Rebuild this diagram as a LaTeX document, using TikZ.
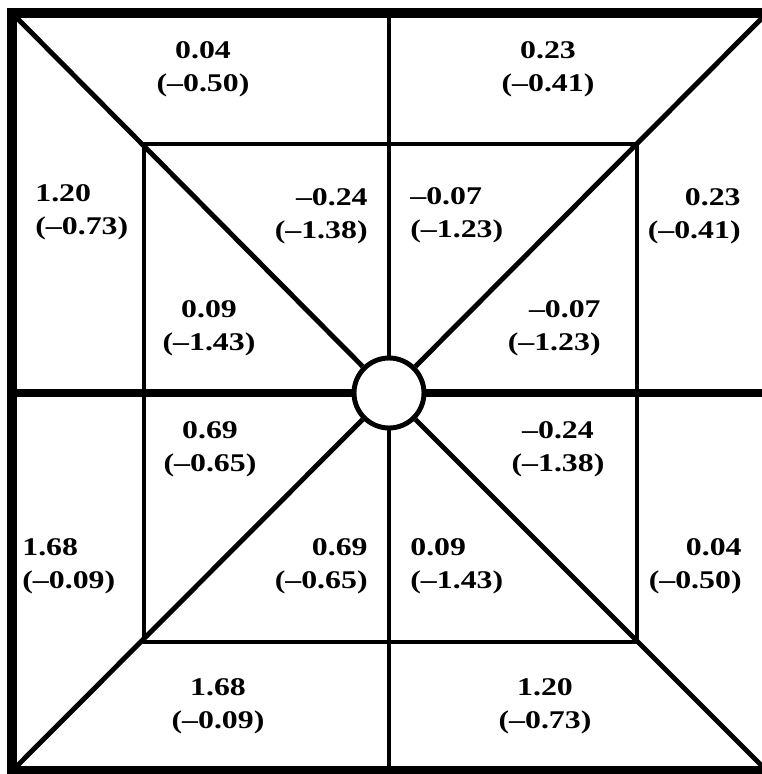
\documentclass[tikz,border=0pt]{standalone}
\usepackage{fontspec}
\newfontfamily\cellfont[FakeStretch=1.25]{Liberation Serif}

\begin{document}
\begin{tikzpicture}[x=0.02cm, y=-0.02cm,
    frame/.style={line width=5.7pt},
    edge/.style={line width=2.8pt},
    axis/.style={line width=4.5pt},
    cell/.style={font=\cellfont\bfseries\fontsize{14.5}{18.7}\selectfont, inner sep=0pt, align=center},
    lcell/.style={cell, align=left, anchor=west},
    rcell/.style={cell, align=right, anchor=east}]
    \useasboundingbox (0,0) rectangle (761,774);

    \coordinate (TL) at (12,13);
    \coordinate (TR) at (767,13);
    \coordinate (BL) at (12,771);
    \coordinate (BR) at (767,771);
    \coordinate (T) at (389,13);
    \coordinate (B) at (389,771);
    \coordinate (L) at (12,393);
    \coordinate (R) at (767,393);
    \coordinate (iTL) at (144,144);
    \coordinate (iBR) at (637,642);

    \node[circle, draw, line width=2.8pt, fill=white, minimum size=1.4cm, inner sep=0pt] (hub) at (389,393) {};

    \draw[frame] (TL) rectangle (BR);
    \draw[edge] (iTL) rectangle (iBR);
    \draw[edge] (TL) -- (hub);
    \draw[edge] (TR) -- (hub);
    \draw[edge] (BL) -- (hub);
    \draw[edge] (BR) -- (hub);
    \draw[edge] (T) -- (hub);
    \draw[edge] (B) -- (hub);
    \draw[axis] (L) -- (hub);
    \draw[axis] (R) -- (hub);

    \node[cell] (n1) at (203,69) {0.04\\(–0.50)};
    \node[cell] (n2) at (548,69) {0.23\\(–0.41)};
    \node[lcell] (n3) at (35,212) {1.20\\(–0.73)};
    \node[rcell] (n4) at (741,216) {0.23\\(–0.41)};
    \node[rcell] (n5) at (368,216) {–0.24\\(–1.38)};
    \node[lcell] (n6) at (410,215) {–0.07\\(–1.23)};
    \node[cell] (n7) at (209,328) {0.09\\(–1.43)};
    \node[rcell] (n8) at (601,328) {–0.07\\(–1.23)};
    \node[cell] (n9) at (210,449) {0.69\\(–0.65)};
    \node[cell] (n10) at (558,449) {–0.24\\(–1.38)};
    \node[lcell] (n11) at (22,566) {1.68\\(–0.09)};
    \node[rcell] (n12) at (368,566) {0.69\\(–0.65)};
    \node[lcell] (n13) at (410,566) {0.09\\(–1.43)};
    \node[rcell] (n14) at (742,566) {0.04\\(–0.50)};
    \node[cell] (n15) at (218,706) {1.68\\(–0.09)};
    \node[cell] (n16) at (545,706) {1.20\\(–0.73)};
\end{tikzpicture}
\end{document}
